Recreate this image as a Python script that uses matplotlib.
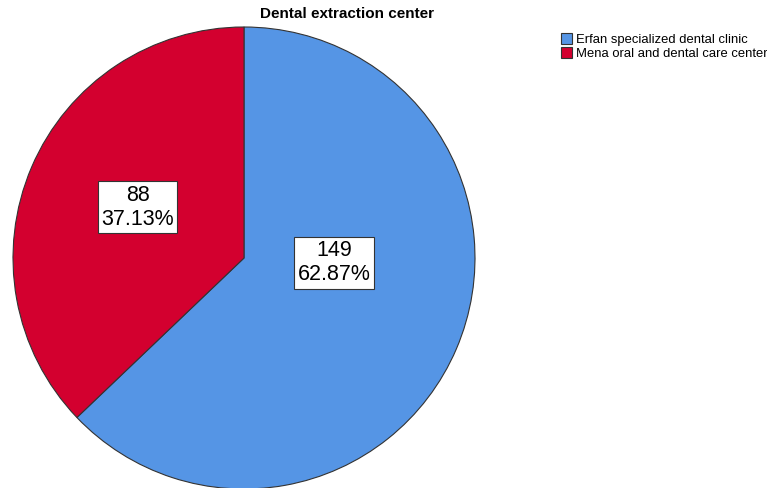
import numpy as np
import matplotlib.pyplot as plt

plt.rcParams['font.family'] = ['Liberation Sans', 'DejaVu Sans']

centers = ['Erfan specialized dental clinic', 'Mena oral and dental care center']
counts = [149, 88]
colors = ['#5595E5', '#D3002F']
total = sum(counts)

fig = plt.figure(figsize=(7.67, 4.88), dpi=100)
ax = fig.add_axes([13 / 767, -1 / 488, 462 / 767, 462 / 488])

wedges, _ = ax.pie(counts, colors=colors, startangle=90, counterclock=False,
                   wedgeprops=dict(edgecolor='#333333', linewidth=0.8))
ax.set_xlim(-1, 1)
ax.set_ylim(-1, 1)
ax.set_aspect('equal')

# label spots (SPSS places them its own way)
label_pos = [(0.39, -0.02), (-0.46, 0.22)]
for n, (x, y) in zip(counts, label_pos):
    ax.text(x, y, f'{n}\n{n / total * 100:.2f}%', ha='center', va='center',
            fontsize=15.5, linespacing=1.2,
            bbox=dict(facecolor='white', edgecolor='#333333', linewidth=0.8, pad=2.5))

fig.text(347 / 767, 1 - 14 / 488, 'Dental extraction center', ha='center', va='center',
         fontsize=11, fontweight='bold')

fig.legend(wedges, centers, loc='upper left', bbox_to_anchor=(556 / 767, 1 - 28 / 488),
           frameon=False, fontsize=9.4, handlelength=0.85, handleheight=0.85,
           handletextpad=0.3, labelspacing=0.1, borderaxespad=0)

fig.savefig('out.png', dpi=100)
